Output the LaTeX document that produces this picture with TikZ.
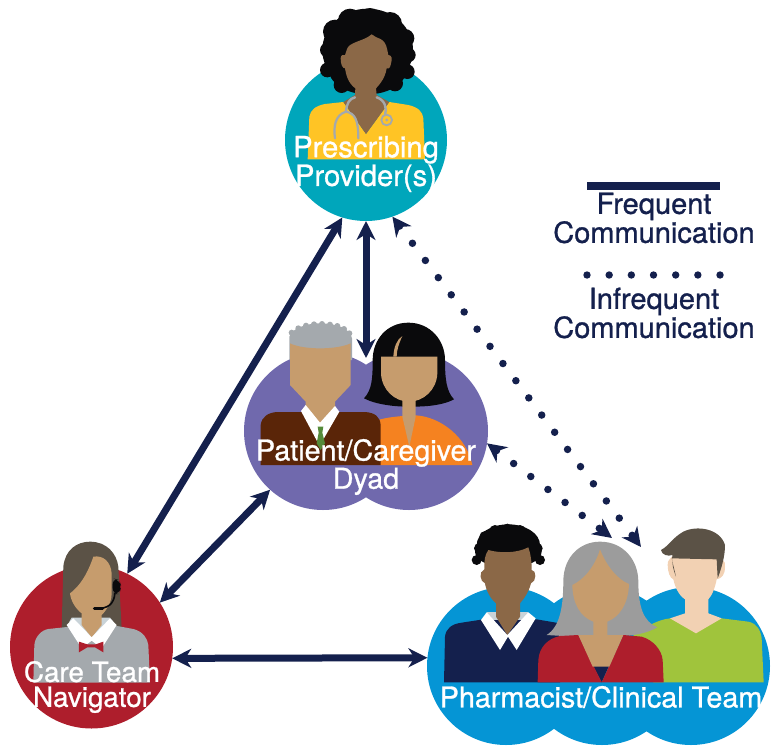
\documentclass[tikz,border=0pt]{standalone}
\usepackage{fontspec}
\setmainfont[FakeBold=0.9]{TeX Gyre Heros}
\usetikzlibrary{arrows.meta}
\definecolor{navy}{HTML}{14204D}
\definecolor{cteal}{HTML}{00A6BB}
\definecolor{cyellow}{HTML}{FFC425}
\definecolor{cbrownskin}{HTML}{8B6847}
\definecolor{chair}{HTML}{0A0A0C}
\definecolor{cred}{HTML}{AE1E2C}
\definecolor{cgrey}{HTML}{A4A9AD}
\definecolor{chairbrown}{HTML}{5B5246}
\definecolor{ctan}{HTML}{C69C6D}
\definecolor{cpurple}{HTML}{7069AD}
\definecolor{cshirt}{HTML}{5A2508}
\definecolor{corange}{HTML}{F58220}
\definecolor{cblue}{HTML}{0595D5}
\definecolor{cgreen}{HTML}{A0C43C}
\definecolor{clight}{HTML}{F2D1B3}
\definecolor{chairgrey}{HTML}{9C9C9C}
\definecolor{cpale}{HTML}{C9D3D8}
\definecolor{ctie}{HTML}{558B3A}
\tikzset{
  disc/.style={circle,minimum size=#1,inner sep=0pt,outer sep=0pt},
  lab/.style={text=white,align=center,inner sep=0pt,font=\fontsize{28.7}{25}\selectfont},
  leg/.style={text=navy,align=center,inner sep=0pt,font=\fontsize{29}{26}\selectfont},
  often/.style={draw=navy,line width=7pt,{Stealth[length=19pt,width=19pt,inset=6pt]}-{Stealth[length=19pt,width=19pt,inset=6pt]}},
  seldom/.style={draw=navy,line width=7.5pt,line cap=round,dash pattern=on 0pt off 21.5pt,{Stealth[length=19pt,width=19pt,inset=6pt]}-{Stealth[length=19pt,width=19pt,inset=6pt]}},
  zoomed/.style={shift={#1},x=0.33333pt,y=-0.33333pt},
}
\begin{document}
\begin{tikzpicture}[x=1pt,y=-1pt]
\useasboundingbox (0,0) rectangle (771,747);
% discs
\node[disc=162pt,fill=cteal] (prov) at (366,140) {};
\node[disc=163pt,fill=cred] (nav) at (91.5,647) {};
\node[disc=158pt,fill=cpurple] (dyadL) at (323,431) {};
\node[disc=158pt,fill=cpurple] (dyadR) at (409,431) {};
\node[disc=158pt,fill=cblue] (teamL) at (506,666) {};
\node[disc=158pt,fill=cblue] (teamM) at (602,666) {};
\node[disc=158pt,fill=cblue] (teamR) at (691,666) {};
\coordinate (dyadTop) at (366,358);
\coordinate (teamTipA) at (641,547);
\coordinate (teamTipB) at (612,538);
% connectors
\draw[often] (prov.253) -- (nav.64.7);
\draw[often] (prov.270) -- (dyadTop);
\draw[often] (dyadL.228) -- (nav.33);
\draw[often] (nav.-8) -- (teamL.174);
\draw[seldom] (prov.289) -- (teamTipA);
\draw[seldom] (dyadR.351.6) -- (teamTipB);
% provider figure
\begin{scope}[zoomed={(270,0)}]
\fill[chair] (293,150) ellipse[x radius=136,y radius=124];
\fill[chair] (293,205) ellipse[x radius=118,y radius=78];
\foreach \a/\b/\r in {240/62/36,300/60/36,360/72/36,195/95/36,405/115/28,172/150/22,415/165/22,172/210/22,412/215/22,215/255/24,375/250/24}
  \fill[chair] (\a,\b) circle[radius=\r];
\fill[cyellow] (113,478) -- (118,350) .. controls (122,330) and (135,318) .. (165,312) -- (220,306) -- (288,402) -- (358,306) -- (415,315) .. controls (445,322) and (458,335) .. (460,355) -- (465,478) -- cycle;
\fill[cbrownskin] (230,150) .. controls (235,125) and (280,125) .. (305,103) .. controls (320,118) and (345,110) .. (352,150) -- (355,165) .. controls (365,165) and (368,175) .. (362,195) .. controls (360,205) and (353,208) .. (350,205) .. controls (345,240) and (320,262) .. (318,265) -- (320,285) -- (358,306) -- (288,402) -- (220,306) -- (255,285) -- (256,265) .. controls (235,250) and (228,225) .. (225,205) .. controls (218,205) and (212,195) .. (212,175) .. controls (212,165) and (220,162) .. (225,165) -- cycle;
\draw[cgrey,line width=2.4pt,line cap=round] (345,345) .. controls (352,325) and (345,300) .. (320,292);
\draw[cgrey,line width=2.4pt,line cap=round] (255,292) .. controls (238,296) and (230,310) .. (228,335);
\draw[cgrey,line width=2.2pt,line cap=round] (195,415) .. controls (190,380) and (195,345) .. (228,335) .. controls (255,340) and (265,360) .. (265,415);
\draw[cgrey,line width=1.8pt,fill=cyellow] (350,360) circle[radius=16];
\fill[cgrey] (350,360) circle[radius=5];
\end{scope}
% navigator figure
\begin{scope}[zoomed={(0,530)}]
\fill[chairbrown] (185,295) -- (190,110) .. controls (195,60) and (230,35) .. (270,35) .. controls (320,35) and (350,70) .. (355,110) -- (365,295) -- cycle;
\fill[cgrey] (100,458) -- (103,345) .. controls (105,320) and (125,300) .. (145,297) -- (210,290) -- (335,285) -- (400,297) .. controls (430,305) and (442,325) .. (445,345) -- (450,458) -- cycle;
\fill[cpale] (208,275) -- (215,263) -- (330,263) -- (340,275) -- (275,320) -- cycle;
\fill[ctan] (280,80) .. controls (310,75) and (332,95) .. (335,130) -- (335,190) .. controls (335,225) and (310,250) .. (305,255) -- (305,285) -- (275,322) -- (245,285) -- (245,250) .. controls (225,235) and (212,210) .. (210,190) .. controls (250,160) and (270,110) .. (280,80) -- cycle;
\fill[white] (200,285) -- (220,265) -- (275,322) -- (330,265) -- (350,285) -- (305,355) -- (275,332) -- (245,355) -- cycle;
\fill[cred] (237,335) -- (262,343) -- (287,343) -- (310,335) -- (310,367) -- (285,352) -- (262,352) -- (237,367) -- cycle;
\fill[chair,rounded corners=6pt] (338,145) -- (358,150) -- (364,170) -- (358,192) -- (338,192) -- cycle;
\draw[chair,line width=1.6pt] (345,188) .. controls (342,225) and (322,235) .. (290,236);
\draw[chair,line width=3pt,line cap=round] (283,236) -- (308,236);
\end{scope}
% dyad figures
\begin{scope}[zoomed={(240,310)}]
\fill[corange] (415,330) .. controls (440,322) and (470,320) .. (487,318) -- (527,316) .. controls (600,320) and (680,380) .. (697,465) -- (415,465) -- cycle;
\fill[chair] (372,265) .. controls (395,240) and (398,210) .. (398,150) .. controls (398,90) and (440,38) .. (505,38) .. controls (570,38) and (615,90) .. (615,150) .. controls (615,210) and (620,245) .. (642,268) .. controls (600,290) and (540,290) .. (505,290) .. controls (470,290) and (410,285) .. (372,265) -- cycle;
\fill[ctan] (487,270) -- (487,320) -- (508,410) -- (527,320) -- (527,270) -- cycle;
\fill[ctan] (423,140) -- (592,140) -- (592,190) .. controls (590,240) and (550,275) .. (507,275) .. controls (465,275) and (425,240) .. (423,190) -- cycle;
\fill[ctan] (460,140) .. controls (462,110) and (470,90) .. (487,78) .. controls (477,100) and (470,120) .. (470,140) -- cycle;
\fill[cgrey] (148,150) -- (148,80) .. controls (155,55) and (200,40) .. (240,40) .. controls (290,40) and (330,55) .. (336,85) -- (336,150) -- cycle;
\foreach \a/\b in {155/68,175/55,198/47,222/43,246/42,270/44,292/48,312/57,328/70}
  \fill[cgrey] (\a,\b) circle[radius=9];
\fill[cshirt] (62,465) -- (62,345) .. controls (65,320) and (85,308) .. (110,306) -- (375,306) .. controls (405,308) and (420,320) .. (422,345) -- (422,465) -- cycle;
\fill[ctan] (150,100) .. controls (190,120) and (290,120) .. (332,100) -- (332,225) -- (285,275) -- (285,295) -- (240,345) -- (197,295) -- (197,275) -- (150,225) -- cycle;
\fill[white] (183,303) -- (197,285) -- (240,338) -- (285,288) -- (298,305) -- (246,395) -- (232,395) -- cycle;
\fill[ctie] (233,350) -- (250,350) -- (247,368) -- (255,400) -- (242,420) -- (230,400) -- (236,368) -- cycle;
\end{scope}
% team figures
\begin{scope}[zoomed={(420,510)}]
% left man
\fill[chair] (265,105) ellipse[x radius=95,y radius=62];
\fill[chair] (265,125) ellipse[x radius=100,y radius=48];
\foreach \a/\b/\r in {262/58/17,225/62/17,300/62/17,195/80/17,333/85/17,178/115/16,352/115/16,170/150/15,360/150/15}
  \fill[chair] (\a,\b) circle[radius=\r];
\fill[navy] (72,517) -- (75,380) .. controls (78,355) and (95,342) .. (125,338) -- (190,328) -- (350,328) -- (420,340) -- (420,517) -- cycle;
\fill[cpale] (200,307) -- (325,307) -- (325,330) -- (200,330) -- cycle;
\fill[cbrownskin] (205,120) .. controls (240,130) and (290,130) .. (325,112) .. controls (335,140) and (335,170) .. (335,180) .. controls (350,180) and (350,215) .. (333,220) .. controls (325,250) and (310,268) .. (300,280) -- (300,320) -- (262,375) -- (228,320) -- (228,280) .. controls (210,265) and (198,240) .. (195,220) .. controls (180,215) and (175,185) .. (193,178) .. controls (192,150) and (195,135) .. (205,120) -- cycle;
\fill[white] (183,330) -- (200,307) -- (262,375) -- (325,307) -- (347,325) -- (290,420) -- (264,380) -- (240,420) -- cycle;
% right man
\fill[cgreen] (640,375) .. controls (680,350) and (710,330) .. (750,325) -- (905,325) -- (985,335) .. controls (1010,340) and (1022,360) .. (1025,385) -- (1031,517) -- (700,517) -- cycle;
\fill[clight] (743,165) .. controls (742,150) and (750,150) .. (755,140) -- (893,140) .. controls (905,150) and (918,150) .. (915,170) .. controls (915,195) and (905,205) .. (890,208) .. controls (885,235) and (875,258) .. (865,268) -- (865,310) -- (905,325) -- (828,370) -- (750,325) -- (795,310) -- (795,268) .. controls (775,255) and (765,230) .. (760,208) .. controls (750,205) and (743,185) .. (743,165) -- cycle;
\fill[chairbrown] (723,120) .. controls (750,105) and (755,85) .. (790,65) .. controls (830,45) and (900,55) .. (915,105) .. controls (915,130) and (910,160) .. (893,205) -- (890,148) -- (755,145) -- (768,200) .. controls (760,180) and (755,160) .. (757,135) .. controls (745,140) and (725,135) .. (723,120) -- cycle;
% woman
\fill[chairgrey] (380,375) .. controls (420,350) and (430,290) .. (430,210) .. controls (432,140) and (480,95) .. (540,95) .. controls (610,95) and (655,150) .. (655,215) .. controls (655,290) and (670,335) .. (712,352) .. controls (680,370) and (640,378) .. (600,378) -- (430,378) -- cycle;
\fill[navy] (518,465) -- (568,465) -- (545,517) -- cycle;
\fill[cred] (353,517) -- (355,450) .. controls (358,410) and (385,385) .. (420,378) -- (475,375) -- (545,517) -- (610,375) -- (665,380) .. controls (700,390) and (725,420) .. (728,450) -- (731,517) -- cycle;
\fill[ctan] (475,375) -- (520,375) -- (520,335) .. controls (480,320) and (458,280) .. (457,225) .. controls (490,210) and (525,170) .. (540,118) .. controls (560,170) and (595,210) .. (627,222) .. controls (625,280) and (600,320) .. (562,335) -- (562,375) -- (610,375) -- (568,470) -- (518,470) -- cycle;
\end{scope}
% labels
\node[lab,font=\fontsize{29.2}{25}\selectfont] (provlab) at (366,164) {Prescribing\\Provider(s)};
\node[lab,font=\fontsize{27.8}{25}\selectfont] (navlab) at (92,687) {Care Team\\Navigator};
\node[lab] (dyadlab) at (366,467) {Patient/Caregiver\\Dyad};
\node[lab] (teamlab) at (601,697) {Pharmacist/Clinical Team};
% legend
\coordinate (legA) at (587,186);
\coordinate (legB) at (720,186);
\draw[navy,line width=8pt] (legA) -- (legB);
\node[leg] (freq) at (654,218) {Frequent\\Communication};
\foreach \i in {0,...,6}
  \fill[navy] (587+22.17*\i,275) circle[radius=3.7];
\node[leg] (infreq) at (654,313) {Infrequent\\Communication};
\end{tikzpicture}
\end{document}
